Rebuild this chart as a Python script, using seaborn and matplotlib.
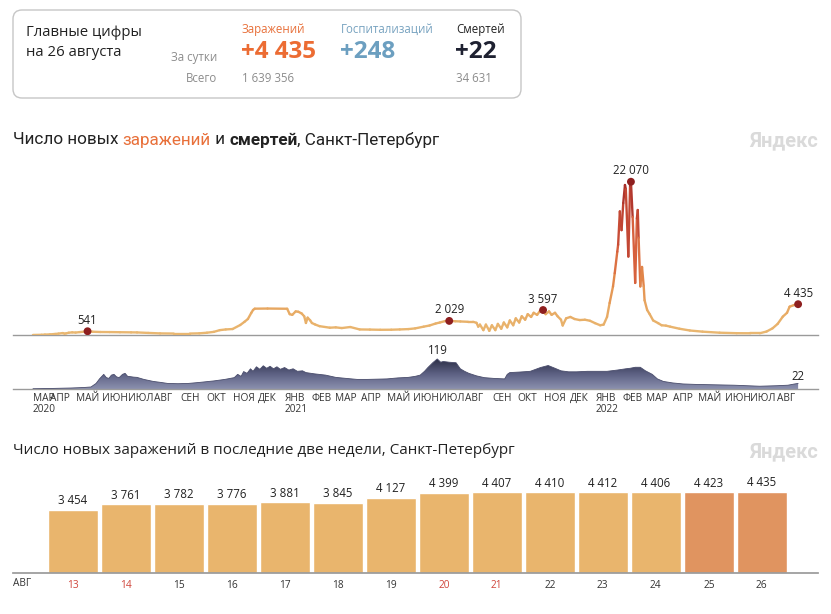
import numpy as np
import pandas as pd
import matplotlib
matplotlib.use("Agg")
import matplotlib.pyplot as plt
import matplotlib.dates as mdates
from matplotlib.collections import LineCollection
from matplotlib.colors import LinearSegmentedColormap, Normalize
from matplotlib.patches import FancyBboxPatch
import seaborn as sns

W, H = 831, 614
start = pd.Timestamp("2020-03-12")

# new cases per day (days since 12 Mar 2020, value)
case_day = [0, 10, 14, 20, 26, 30, 35, 37, 39, 42, 46, 50, 55, 60, 64, 70, 79, 90, 102, 115,
            122, 135, 149, 165, 184, 195, 204, 212, 219, 226, 234, 243, 248, 252, 256, 258, 260, 275, 298, 301,
            304, 308, 311, 315, 318, 320, 322, 325, 327, 331, 336, 348, 355, 362, 372, 383, 395, 407, 420, 430,
            440, 448, 458, 465, 472, 477, 483, 488, 495, 501, 510, 516, 520, 522, 524, 528, 531, 535, 538, 542,
            545, 549, 552, 556, 559, 563, 566, 570, 573, 577, 580, 584, 587, 591, 594, 598, 601, 605, 608, 612,
            615, 619, 621, 625, 630, 635, 641, 647, 653, 659, 665, 669, 673, 676, 680, 682, 685, 686, 688, 690,
            692, 694, 695, 698, 700, 701, 703, 706, 708, 709, 710, 712, 714, 716, 717, 720, 723, 727, 733, 737,
            742, 747, 758, 770, 785, 805, 825, 841, 852, 860, 867, 873, 879, 884, 887, 892, 897]
case_val = [5, 30, 60, 90, 150, 200, 280, 190, 240, 330, 380, 350, 420, 480, 541, 470, 430, 420, 400, 380,
            370, 300, 230, 210, 210, 240, 330, 450, 700, 800, 860, 1440, 1900, 2310, 3200, 3600, 3790, 3810, 3780, 3000,
            2900, 3400, 3350, 3100, 2690, 1730, 2500, 2100, 1730, 1500, 1270, 1050, 1100, 1000, 1150, 800, 780, 750, 760, 800,
            850, 950, 1200, 1370, 1650, 1800, 2000, 2029, 1980, 1950, 1900, 1900, 1750, 1200, 1500, 700, 1500, 600, 1400, 700,
            1600, 900, 1800, 1100, 2100, 1400, 2400, 1800, 2700, 2200, 3000, 2600, 3200, 2900, 3400, 3597, 3000, 3400, 2900, 3200,
            2700, 2200, 1370, 2400, 2600, 2300, 2150, 2200, 2050, 1700, 1400, 1500, 2600, 4600, 7000, 8900, 12000, 13000, 17800, 15100,
            19000, 21600, 21000, 11300, 21500, 22070, 17000, 7500, 16800, 18000, 14000, 7000, 9800, 7000, 5000, 3600, 3000, 2100, 1700, 1400,
            1350, 1200, 900, 650, 480, 330, 260, 250, 250, 500, 960, 1600, 2640, 3200, 4080, 4300, 4435]

# deaths per day
death_day = [0, 20, 45, 60, 68, 74, 78, 83, 86, 89, 92, 95, 98, 101, 105, 108, 111, 114, 118, 122,
             130, 141, 150, 158, 170, 182, 195, 212, 225, 236, 240, 244, 247, 251, 255, 258, 262, 266, 270, 274,
             278, 282, 286, 290, 295, 300, 305, 310, 316, 320, 330, 343, 355, 367, 380, 392, 404, 415, 428, 440,
             448, 454, 459, 463, 469, 474, 478, 481, 488, 496, 501, 506, 511, 520, 529, 540, 553, 556, 559, 570,
             583, 595, 604, 612, 619, 628, 637, 650, 665, 673, 685, 695, 700, 706, 712, 718, 726, 732, 739, 750,
             762, 778, 794, 808, 822, 837, 852, 862, 872, 885, 893, 897]
death_val = [1, 2, 4, 6, 8, 22, 40, 58, 45, 42, 55, 58, 48, 45, 58, 62, 50, 49, 47, 46,
             38, 30, 26, 22, 21, 22, 26, 32, 38, 45, 58, 50, 69, 62, 80, 70, 88, 78, 92, 82,
             90, 80, 88, 78, 85, 75, 80, 70, 72, 65, 60, 55, 46, 42, 38, 38, 39, 40, 44, 46,
             50, 55, 70, 85, 105, 119, 106, 109, 106, 104, 80, 70, 62, 52, 45, 42, 40, 58, 65, 67,
             70, 85, 93, 82, 72, 68, 68, 70, 70, 70, 75, 80, 82, 86, 86, 72, 58, 40, 30, 24,
             20, 18, 17, 16, 15, 13, 11, 12, 13, 15, 20, 22]

marked_day = [64, 488, 598, 701, 897]
marked_val = [541, 2029, 3597, 22070, 4435]

month_names = ["ЯНВ", "ФЕВ", "МАР", "АПР", "МАЙ", "ИЮН", "ИЮЛ", "АВГ", "СЕН", "ОКТ", "НОЯ", "ДЕК"]

bar_days = [13, 14, 15, 16, 17, 18, 19, 20, 21, 22, 23, 24, 25, 26]
bar_vals = [3454, 3761, 3782, 3776, 3881, 3845, 4127, 4399, 4407, 4410, 4412, 4406, 4423, 4435]
weekend = [13, 14, 20, 21]


def fmt(v):
    return f"{v:,}".replace(",", " ")


def px_box(x0, y0, x1, y1):
    return [x0 / W, 1 - y1 / H, (x1 - x0) / W, (y1 - y0) / H]


sns.set_theme(style="white")
plt.rcParams["font.family"] = ["Open Sans", "DejaVu Sans"]
DARK = "#222222"
GREY = "#8c8c8c"
ORANGE = "#e8703a"

fig = plt.figure(figsize=(W / 100, H / 100), dpi=100)
fig.patch.set_facecolor("white")
ov = fig.add_axes([0, 0, 1, 1])
ov.set_xlim(0, W)
ov.set_ylim(H, 0)
ov.axis("off")
rend = fig.canvas.get_renderer()


def text_w(s, size, weight="normal", family=None):
    t = ov.text(0, 0, "н" + s + "н", fontsize=size, fontweight=weight, family=family)
    g = ov.text(0, 0, "нн", fontsize=size, fontweight=weight, family=family)
    w = t.get_window_extent(renderer=rend).width - g.get_window_extent(renderer=rend).width
    t.remove()
    g.remove()
    return w


# header card
ov.add_patch(FancyBboxPatch((13, 10), 508, 88, boxstyle="round,pad=0,rounding_size=9",
                            ec="#c6c6c6", fc="white", lw=1))
ov.text(26, 32, "Главные цифры", fontsize=10.7, color=DARK, va="center")
ov.text(26, 52, "на 26 августа", fontsize=10.7, color=DARK, va="center")
ov.text(217, 57, "За сутки", fontsize=8.3, color=GREY, va="center", ha="right")
ov.text(217, 79, "Всего", fontsize=8.3, color=GREY, va="center", ha="right")
cols = [(242, "Заражений", "+4 435", "1 639 356", ORANGE, "#ec6c33"),
        (341, "Госпитализаций", "+248", "", "#78a3c0", "#6c9fc0"),
        (456, "Смертей", "+22", "34 631", DARK, "#1e2131")]
for x, head, big, total, c1, c2 in cols:
    ov.text(x, 29, head, fontsize=8.3, color=c1, va="center")
    ov.text(x - 1, 52, big, fontsize=17.5, color=c2, va="center", fontweight="bold")
    if total:
        ov.text(x, 79, total, fontsize=8.3, color=GREY, va="center")

# title of the top chart
NARROW = ["Liberation Sans Narrow", "Roboto", "DejaVu Sans"]
parts = [("Число новых ", DARK, "normal"), ("заражений", ORANGE, "normal"), (" и ", DARK, "normal"),
         ("смертей", DARK, "bold"), (", Санкт-Петербург", DARK, "normal")]
full = "".join(p[0] for p in parts)
tsize = 10 * 428 / text_w(full, 10, family=NARROW)
x = 13
for s, c, wgt in parts:
    ov.text(x, 140, s, fontsize=tsize, color=c, fontweight=wgt, va="center", family=NARROW)
    x += text_w(s, tsize, wgt, family=NARROW)

for yy in (141, 452):
    ov.text(818, yy, "Яндекс", fontsize=14.5, color="#dadada", fontweight="bold",
            ha="right", va="center", family=NARROW)

# timeline axes
case_x = mdates.date2num(start + pd.to_timedelta(case_day, unit="D"))
death_x = mdates.date2num(start + pd.to_timedelta(death_day, unit="D"))
mark_x = mdates.date2num(start + pd.to_timedelta(marked_day, unit="D"))
x_lo = mdates.date2num(start - pd.Timedelta(days=23.4))
x_hi = mdates.date2num(start + pd.Timedelta(days=920.3))

ax1 = fig.add_axes(px_box(13, 160, 818, 335))
ax2 = fig.add_axes(px_box(13, 340, 818, 389))
for ax in (ax1, ax2):
    ax.set_facecolor("none")
    for side in ("top", "left", "right"):
        ax.spines[side].set_visible(False)
    ax.spines["bottom"].set_color("#9a9a9a")
    ax.spines["bottom"].set_linewidth(1)
    ax.set_yticks([])

case_cmap = LinearSegmentedColormap.from_list(
    "cases", [(0, "#e9b872"), (0.15, "#e8ab64"), (0.35, "#e38b4c"), (0.6, "#d4573a"), (1, "#a52c29")])
pts = np.column_stack([case_x, case_val])
segs = np.stack([pts[:-1], pts[1:]], axis=1)
mid = (np.array(case_val[:-1]) + np.array(case_val[1:])) / 2
lc = LineCollection(segs, colors=case_cmap(Normalize(0, 22070)(mid)), linewidths=1.7,
                    capstyle="round", joinstyle="round", zorder=3)
ax1.add_collection(lc)
sns.scatterplot(x=mark_x, y=marked_val, color="#8e1f1f", s=32, edgecolor="none", zorder=5, ax=ax1)
for mx, mv in zip(mark_x, marked_val):
    ax1.annotate(fmt(mv), (mx, mv), xytext=(0, 11), textcoords="offset pixels",
                 ha="center", va="center", fontsize=8.3, color=DARK)
ax1.set_xlim(x_lo, x_hi)
ax1.set_ylim(0, 25200)
ax1.set_xticks([])

death_cmap = LinearSegmentedColormap.from_list("deaths", ["#8b90af", "#5a5e80", "#25273d"])
poly = ax2.fill_between(death_x, 0, death_val, color="none", lw=0)
grad = np.linspace(0, 1, 256).reshape(-1, 1)
img = ax2.imshow(grad, extent=[death_x[0], death_x[-1], 0, 125], origin="lower",
                 aspect="auto", cmap=death_cmap, zorder=2)
img.set_clip_path(poly.get_paths()[0], transform=ax2.transData)
sns.lineplot(x=death_x, y=death_val, color="#4a4d6c", lw=0.6, ax=ax2, zorder=3)
i_max = int(np.argmax(death_val))
ax2.annotate(str(death_val[i_max]), (death_x[i_max], death_val[i_max]), xytext=(1, 8),
             textcoords="offset pixels", ha="center", va="center", fontsize=8.3, color=DARK)
ax2.annotate(str(death_val[-1]), (death_x[-1], death_val[-1]), xytext=(0, 7),
             textcoords="offset pixels", ha="center", va="center", fontsize=8.3, color=DARK)
ax2.set_xlim(x_lo, x_hi)
ax2.set_ylim(0, 194)

months = pd.date_range("2020-04-01", "2022-08-01", freq="MS")
tick_dates = [start] + list(months)
labels = []
for d in tick_dates:
    lab = month_names[d.month - 1]
    if d.month == 1 or d == start:
        lab += "\n" + str(d.year)
    labels.append(lab)
ax2.set_xticks(mdates.date2num(tick_dates))
ax2.set_xticklabels(labels, ha="left", fontsize=7.3, color="#333333", linespacing=0.95)
ax2.tick_params(axis="x", length=0, pad=3)

# last two weeks
ov.text(13, 451, "Число новых заражений в последние две недели, Санкт-Петербург",
        fontsize=12 * 500 / text_w("Число новых заражений в последние две недели, Санкт-Петербург", 12),
        color=DARK, va="center")

ax3 = fig.add_axes(px_box(13, 460, 818, 573))
ax3.set_facecolor("none")
df = pd.DataFrame({"day": [str(d) for d in bar_days], "value": bar_vals})
bar_colors = ["#e09460" if d >= 25 else "#e9b56d" for d in bar_days]
sns.barplot(data=df, x="day", y="value", hue="day", palette=bar_colors, legend=False,
            width=0.94, saturation=1, ax=ax3)
for i, v in enumerate(bar_vals):
    ax3.annotate(fmt(v), (i, v), xytext=(0, 9), textcoords="offset pixels",
                 ha="center", va="center", fontsize=8.3, color=DARK)
ax3.set_xlim(-1.13, 14.06)
ax3.set_ylim(0, 6180)
ax3.set_xlabel("")
ax3.set_ylabel("")
ax3.set_yticks([])
for side in ("top", "left", "right"):
    ax3.spines[side].set_visible(False)
ax3.spines["bottom"].set_color("#9a9a9a")
ax3.tick_params(axis="x", length=0, pad=5, labelsize=7.3)
for lab, d in zip(ax3.get_xticklabels(), bar_days):
    lab.set_color("#d0443a" if d in weekend else "#333333")
ov.text(13, 584, "АВГ", fontsize=7.3, color="#333333", va="center")

fig.savefig("out.png", dpi=100, facecolor="white")
